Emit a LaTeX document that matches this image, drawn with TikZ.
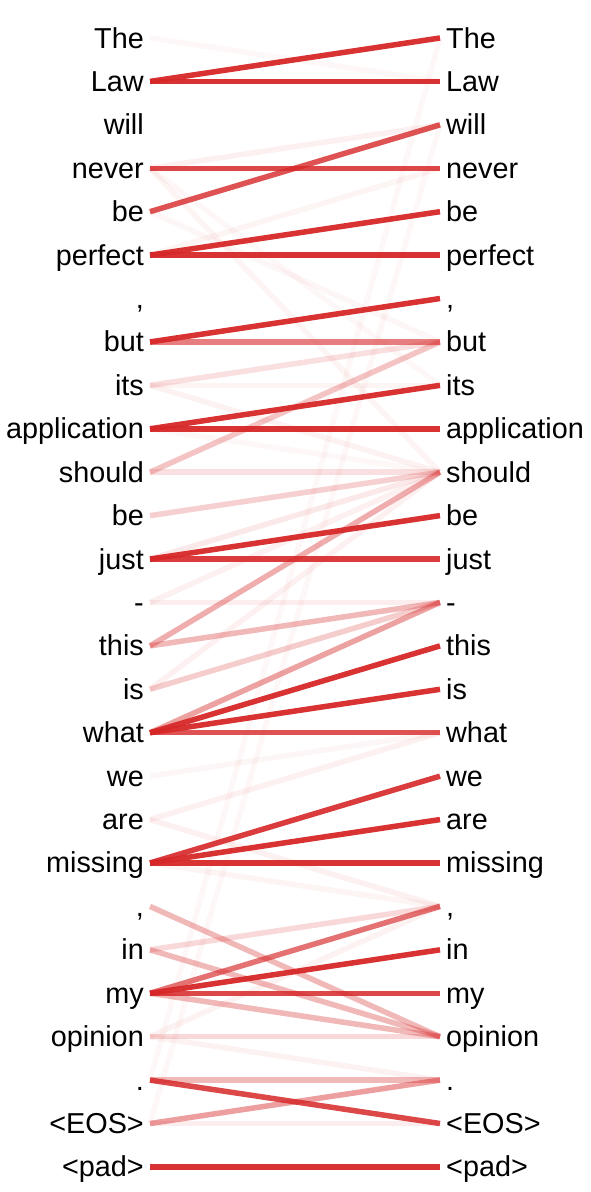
\documentclass[tikz,border=0pt]{standalone}
\usepackage{fontspec}
\setmainfont{Liberation Sans}
\definecolor{attn}{RGB}{214,39,40}
\begin{document}
\begin{tikzpicture}[x=1pt,y=-1pt,
  word/.style={inner sep=0pt, font=\fontsize{28.8}{34}\selectfont},
  att/.style={draw=attn, line width=5.5pt, draw opacity=#1}]
\useasboundingbox (0,0) rectangle (591,1192);
\foreach \w [count=\n from 0] in {The,Law,will,never,be,perfect,{,},but,its,application,should,be,just,-,this,is,what,we,are,missing,{,},in,my,opinion,.,<EOS>,<pad>} {
  \pgfmathsetmacro\yy{38+43.42*\n}
  \node[word, anchor=base east] (L\n) at (144,\yy+10) {\w};
  \node[word, anchor=base west] (R\n) at (446,\yy+10) {\w};
  \coordinate (a\n) at (150,\yy);
  \coordinate (b\n) at (440,\yy);
}
\foreach \i/\j/\o in {
  0/1/0.04, 3/2/0.07, 3/10/0.05, 3/8/0.035, 5/3/0.05, 4/7/0.045, 8/8/0.05, 8/10/0.06,
  9/10/0.035, 12/10/0.1, 13/10/0.07, 13/13/0.08, 15/10/0.07, 17/16/0.045, 18/16/0.07,
  18/20/0.07, 19/20/0.05, 23/20/0.06, 23/24/0.06, 24/0/0.04, 25/2/0.04, 25/25/0.08,
  8/7/0.15, 10/10/0.15, 11/10/0.22, 10/7/0.28, 15/13/0.23, 14/13/0.33, 14/10/0.38,
  16/13/0.43, 21/20/0.18, 20/23/0.33, 21/23/0.33, 22/23/0.33, 23/23/0.18, 24/24/0.33,
  25/24/0.45, 7/7/0.6, 22/20/0.65,
  1/0/0.95, 1/1/0.95, 3/3/0.85, 4/2/0.8, 5/4/0.95, 5/5/0.95, 7/6/0.95, 9/8/0.95,
  9/9/0.95, 12/11/0.95, 12/12/0.9, 16/14/0.95, 16/15/0.95, 16/16/0.8, 19/17/0.9,
  19/18/0.95, 19/19/0.95, 22/21/0.95, 22/22/0.85, 24/25/0.85, 26/26/0.95} {
  \draw[att=\o] (a\i) -- (b\j);
}
\end{tikzpicture}
\end{document}
